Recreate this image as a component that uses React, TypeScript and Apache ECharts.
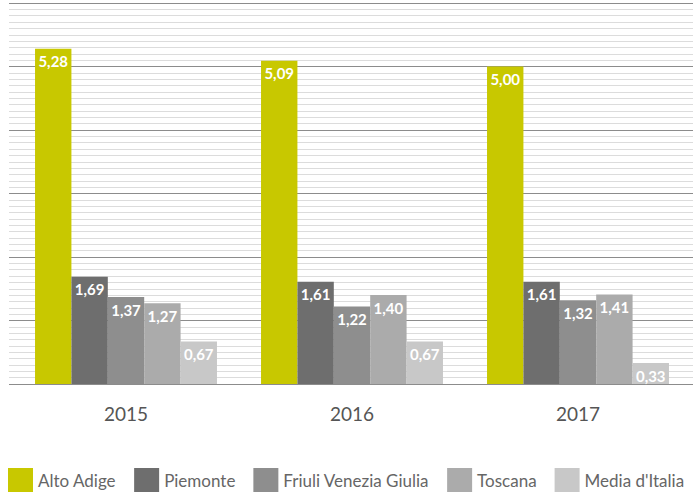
import React, { useEffect, useRef } from "react";
import * as echarts from "echarts";

const years = ["2015", "2016", "2017"];
const seriesNames = ["Alto Adige", "Piemonte", "Friuli Venezia Giulia", "Toscana", "Media d'Italia"];
const altoAdige = [5.28, 5.09, 5.0];
const piemonte = [1.69, 1.61, 1.61];
const friuli = [1.37, 1.22, 1.32];
const toscana = [1.27, 1.4, 1.41];
const mediaItalia = [0.67, 0.67, 0.33];
const colors = ["#c8c800", "#6e6e6e", "#8e8e8e", "#ababab", "#c8c8c8"];

const FONT = "Lato, 'Open Sans', sans-serif";

export default function App() {
  const ref = useRef<HTMLDivElement>(null);
  useEffect(() => {
    if (!ref.current) return;
    const chart = echarts.init(ref.current, null, { renderer: "svg" });
    const values = [altoAdige, piemonte, friuli, toscana, mediaItalia];
    chart.setOption({
      animation: false,
      textStyle: { fontFamily: FONT },
      grid: [
        { left: 9, right: 7, top: 3, bottom: 110 },
        { left: 13, right: 9, top: 3, bottom: 110 },
      ],
      legend: {
        data: seriesNames,
        left: 8,
        top: 468,
        padding: 0,
        icon: "rect",
        itemWidth: 25,
        itemHeight: 24,
        itemGap: 18,
        textStyle: { fontSize: 17, color: "#666", fontFamily: FONT },
      },
      xAxis: [
        { type: "value", gridIndex: 0, show: false, min: 0, max: 1 },
        {
          type: "category",
          gridIndex: 1,
          data: years,
          axisLine: { show: false },
          axisTick: { show: false },
          axisLabel: { fontSize: 19, color: "#555", margin: 20, fontFamily: FONT },
        },
      ],
      yAxis: [
        {
          type: "value",
          gridIndex: 0,
          min: 0,
          max: 6,
          interval: 1,
          axisLabel: { show: false },
          axisLine: { show: false },
          axisTick: { show: false },
          splitLine: { show: true, lineStyle: { color: "#8c8c8c", width: 1 } },
          minorTick: { show: false, splitNumber: 10 },
          minorSplitLine: { show: true, lineStyle: { color: "#dcdcdc", width: 1 } },
        },
        { type: "value", gridIndex: 1, min: 0, max: 6, interval: 1, show: false, splitLine: { show: false } },
      ],
      series: seriesNames.map((name, i) => ({
        name,
        type: "bar",
        xAxisIndex: 1,
        yAxisIndex: 1,
        data: values[i],
        barGap: "0%",
        barCategoryGap: "19.5%",
        itemStyle: { color: colors[i] },
        label: {
          show: true,
          position: "insideTop",
          distance: 5,
          color: "#fff",
          fontWeight: "bold",
          fontSize: 15,
          fontFamily: FONT,
          formatter: (p: any) => Number(p.value).toFixed(2).replace(".", ","),
        },
      })),
    });
    return () => chart.dispose();
  }, []);
  return <div ref={ref} style={{ width: 700, height: 494, position: "absolute", left: 0, top: 0 }} />;
}
